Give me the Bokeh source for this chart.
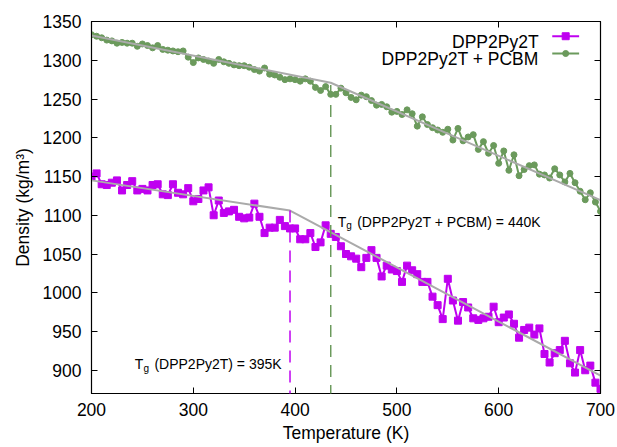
from bokeh.plotting import figure
from bokeh.models import Range1d, LinearAxis, FixedTicker, Label, Arrow
from bokeh.embed import file_html
from bokeh.resources import INLINE

# ---------------- data ----------------
temperature = list(range(200, 705, 5))

density_dpp2py2t = [
    1150, 1154, 1140, 1139, 1142, 1145, 1132, 1139, 1144, 1132,
    1134, 1132, 1139, 1140, 1127, 1126, 1140, 1129, 1127, 1135,
    1118, 1121, 1132, 1136, 1100, 1119, 1103, 1105, 1107, 1098,
    1096, 1097, 1115, 1098, 1077, 1084, 1084, 1094, 1086, 1083,
    1083, 1069, 1069, 1077, 1059, 1065, 1087, 1076, 1072, 1060,
    1050, 1047, 1044, 1033, 1045, 1055, 1045, 1021, 1035, 1030,
    1028, 1014, 1035, 1029, 1024, 1014, 1014, 995, 984, 966,
    1018, 990, 964, 988, 981, 967, 965, 967, 969, 982,
    962, 968, 972, 960, 942, 952, 955, 946, 954, 921,
    910, 922, 926, 938, 909, 897, 926, 900, 906, 884,
    876,
]

density_dpp2py2t_pcbm = [
    1333, 1331, 1329, 1326, 1325, 1322, 1323, 1322, 1322, 1318,
    1321, 1319, 1316, 1319, 1314, 1313, 1312, 1311, 1312, 1304,
    1297, 1303, 1301, 1299, 1296, 1301, 1298, 1296, 1294, 1293,
    1293, 1291, 1288, 1286, 1290, 1282, 1281, 1278, 1275, 1276,
    1275, 1273, 1276, 1273, 1265, 1261, 1266, 1256, 1256, 1264,
    1258, 1252, 1249, 1255, 1253, 1248, 1242, 1243, 1240, 1233,
    1234, 1230, 1236, 1231, 1215, 1227, 1217, 1213, 1210, 1207,
    1211, 1197, 1212, 1196, 1201, 1204, 1185, 1195, 1180, 1190,
    1167, 1183, 1158, 1178, 1151, 1159, 1164, 1165, 1153, 1152,
    1148, 1160, 1152, 1143, 1154, 1142, 1131, 1120, 1129, 1117,
    1105,
]

fit_dpp2py2t_T = [200, 395, 700]
fit_dpp2py2t_rho = [1145, 1106, 893]
fit_pcbm_T = [200, 435, 700]
fit_pcbm_rho = [1332, 1271, 1119.5]

tg_T = [395, 435]
tg_top = [1106, 1268]
tg_bottom = [844, 851]

series_names = ["DPP2Py2T", "DPP2Py2T + PCBM"]
tg_texts = ["(DPP2Py2T) = 395K", "(DPP2Py2T + PCBM) = 440K"]

x_ticks = [200, 300, 400, 500, 600, 700]
y_ticks = [900, 950, 1000, 1050, 1100, 1150, 1200, 1250, 1300, 1350]

# ---------------- style ----------------
FONT = "Liberation Sans"
FS = "17.5px"
PURPLE = "#bf00f0"
GREEN = "#6b9a5c"
GRAY = "#aaaaaa"

p = figure(
    width=617, height=447,
    x_range=Range1d(200, 700), y_range=Range1d(870, 1350),
    output_backend="svg", toolbar_location=None,
    min_border_left=91, min_border_right=17,
    min_border_top=21, min_border_bottom=54,
    x_axis_label="Temperature (K)", y_axis_label="Density (kg/m³)",
)
p.background_fill_color = "white"
p.border_fill_color = "white"
p.grid.visible = False
p.outline_line_color = "black"
p.outline_line_width = 1.2

for ax in p.xaxis + p.yaxis:
    ax.major_label_text_font = FONT
    ax.major_label_text_font_size = FS
    ax.major_label_text_color = "black"
    ax.axis_label_text_font = FONT
    ax.axis_label_text_font_size = FS
    ax.axis_label_text_font_style = "normal"
    ax.axis_label_text_color = "black"
    ax.major_tick_in = 6
    ax.major_tick_out = 0
    ax.minor_tick_line_color = None
    ax.axis_line_color = "black"
    ax.major_tick_line_color = "black"

p.xaxis.ticker = FixedTicker(ticks=x_ticks)
p.yaxis.ticker = FixedTicker(ticks=y_ticks)
p.xaxis.major_label_standoff = 9
p.xaxis.axis_label_standoff = 4
p.yaxis.major_label_standoff = 10
p.yaxis.axis_label_standoff = 7

# mirrored tick marks on the right and top (no labels drawn)
for loc, ticks in (("right", y_ticks), ("above", x_ticks)):
    ax = LinearAxis(ticker=FixedTicker(ticks=ticks))
    ax.major_label_text_font_size = "1px"
    ax.major_label_text_color = None
    ax.major_label_standoff = 0
    ax.major_tick_in = 6
    ax.major_tick_out = 0
    ax.minor_tick_line_color = None
    ax.axis_line_color = "black"
    ax.major_tick_line_color = "black"
    p.add_layout(ax, loc)

# ---------------- data series ----------------
p.line(temperature, density_dpp2py2t, line_color=PURPLE, line_width=2)
p.scatter(temperature, density_dpp2py2t, marker="square", size=7,
          fill_color=PURPLE, line_color=PURPLE)
p.line(temperature, density_dpp2py2t_pcbm, line_color=GREEN, line_width=2)
p.scatter(temperature, density_dpp2py2t_pcbm, marker="circle", size=6,
          fill_color=GREEN, line_color=GREEN)

# fits
p.line(fit_dpp2py2t_T, fit_dpp2py2t_rho, line_color=GRAY, line_width=2)
p.line(fit_pcbm_T, fit_pcbm_rho, line_color=GRAY, line_width=2)

# Tg markers
for i, col in enumerate([PURPLE, GREEN]):
    p.add_layout(Arrow(end=None, start=None,
                       x_start=tg_T[i], y_start=tg_top[i],
                       x_end=tg_T[i], y_end=tg_bottom[i],
                       line_color=col, line_width=1.5, line_dash="12 8"))

# Tg annotations (T with subscript g)
tg_pos = [(242.6, 907.7), (441.8, 1091.4)]
for (tx, ty), txt in zip(tg_pos, tg_texts):
    p.add_layout(Label(x=tx, y=ty, text="T", text_font=FONT,
                       text_font_size="14px", text_baseline="alphabetic",
                       text_color="black"))
    p.add_layout(Label(x=tx + 8.4, y=ty - 5.2, text="g", text_font=FONT,
                       text_font_size="10px", text_baseline="alphabetic",
                       text_color="black"))
    p.add_layout(Label(x=tx + 19.2, y=ty, text=txt, text_font=FONT,
                       text_font_size="14px", text_baseline="alphabetic",
                       text_color="black"))

# manual legend (text right, sample on the right as in gnuplot)
leg_text_x = 639.2
leg_text_y = [1323.7, 1301.0]
leg_line_x = [652.6, 679.0]
leg_line_y = [1331.0, 1308.7]
markers = ["square", "circle"]
sizes = [7, 6]
for i, col in enumerate([PURPLE, GREEN]):
    p.add_layout(Label(x=leg_text_x, y=leg_text_y[i], text=series_names[i],
                       text_font=FONT, text_font_size=FS,
                       text_align="right", text_baseline="alphabetic",
                       text_color="black"))
    p.line(leg_line_x, [leg_line_y[i]] * 2, line_color=col, line_width=2)
    p.scatter([sum(leg_line_x) / 2], [leg_line_y[i]], marker=markers[i],
              size=sizes[i], fill_color=col, line_color=col)

open("out.html", "w").write(file_html(p, INLINE))
